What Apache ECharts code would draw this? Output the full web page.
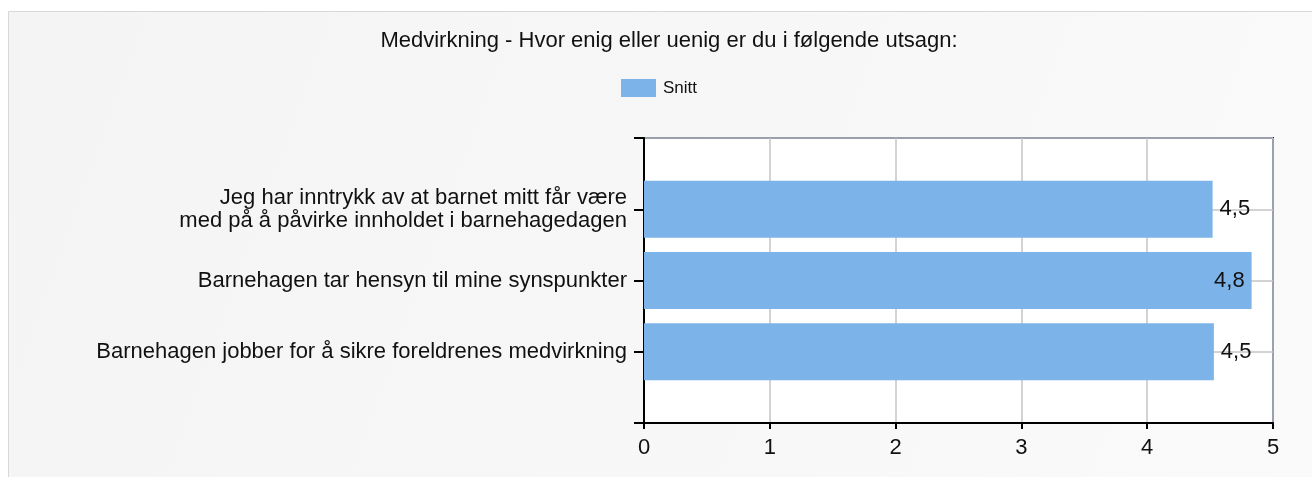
<!DOCTYPE html>
<html>
<head>
<meta charset="utf-8">
<script src="https://cdn.jsdelivr.net/npm/echarts@6/dist/echarts.min.js"></script>
<style>
html,body{margin:0;padding:0;background:#fff;}
#c{width:1312px;height:477px;}
</style>
</head>
<body>
<div id="c"></div>
<script>
const titleText = 'Medvirkning - Hvor enig eller uenig er du i følgende utsagn:';
const seriesName = 'Snitt';
const categories = [
  'Jeg har inntrykk av at barnet mitt får være\nmed på å påvirke innholdet i barnehagedagen',
  'Barnehagen tar hensyn til mine synspunkter',
  'Barnehagen jobber for å sikre foreldrenes medvirkning'
];
const values = [4.52, 4.83, 4.53];
const xTicks = [0, 1, 2, 3, 4, 5];

const FONT = '"Liberation Sans", Arial, sans-serif';
const chart = echarts.init(document.getElementById('c'), null, {renderer: 'canvas'});
const xMax = xTicks[xTicks.length - 1];
const axisCats = [''].concat(categories, ['']);

chart.setOption({
  animation: false,
  backgroundColor: '#ffffff',
  graphic: [{
    type: 'rect', z: -10, silent: true,
    shape: {x: 8.5, y: 11.5, width: 1310, height: 470},
    style: {
      fill: new echarts.graphic.LinearGradient(0, 0, 1, 1, [
        {offset: 0, color: '#f4f4f4'}, {offset: 1, color: '#fafafa'}
      ]),
      stroke: '#d8d8d8', lineWidth: 1
    }
  }],
  title: {
    text: titleText, left: 669, top: 30, textAlign: 'center', padding: 0,
    textStyle: {fontFamily: FONT, fontSize: 22, fontWeight: 'normal', color: '#111'}
  },
  legend: {
    data: [seriesName], left: 621, top: 79, itemWidth: 35, itemHeight: 18, itemGap: 5, padding: 0,
    textStyle: {fontFamily: FONT, fontSize: 17, color: '#111', padding: [0, 0, 0, 2]},
    icon: 'rect'
  },
  grid: {
    left: 644, right: 39, top: 138, bottom: 54,
    show: true, backgroundColor: '#ffffff', borderColor: '#1c3763', borderWidth: 2
  },
  xAxis: {
    type: 'value', min: 0, max: xMax, interval: 1,
    axisLine: {show: true, lineStyle: {color: '#000', width: 2}},
    axisTick: {show: true, length: 6, lineStyle: {color: '#000', width: 2}},
    axisLabel: {fontFamily: FONT, fontSize: 22, color: '#111', margin: 14},
    splitLine: {show: true, lineStyle: {color: '#c4c4c4', width: 1.5}}
  },
  yAxis: {
    type: 'category', data: axisCats, inverse: true, boundaryGap: false,
    axisLine: {show: true, lineStyle: {color: '#000', width: 2}},
    axisTick: {show: true, length: 10, alignWithLabel: true, lineStyle: {color: '#000', width: 2}},
    axisLabel: {fontFamily: FONT, fontSize: 22, color: '#111', margin: 17, lineHeight: 23, align: 'right', interval: 0},
    splitLine: {show: true, lineStyle: {color: '#c4c4c4', width: 1.5}}
  },
  series: [{
    name: seriesName, type: 'bar', barWidth: 57,
    itemStyle: {color: '#7cb4ea'},
    data: values.map((v, i) => ({
      value: [v, i + 1],
      label: {
        show: true,
        position: (v + 0.3 > xMax) ? 'insideRight' : 'right',
        distance: 7,
        formatter: (p) => p.value[0].toFixed(1).replace('.', ','),
        fontFamily: FONT, fontSize: 22, color: '#111'
      }
    }))
  }]
});
</script>
</body>
</html>
